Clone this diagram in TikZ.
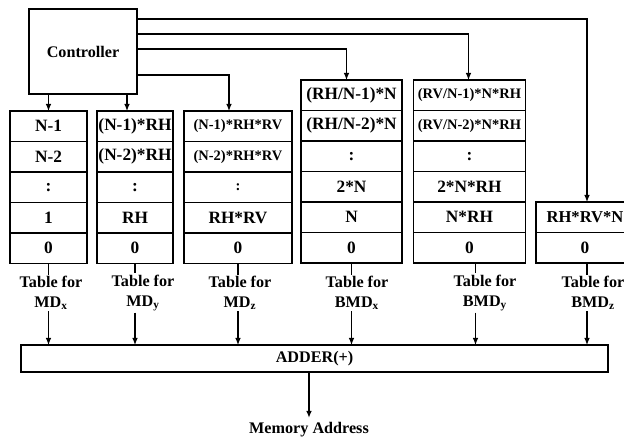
\documentclass[tikz,border=0pt]{standalone}
\usepackage{fontspec}
\setmainfont{Liberation Serif}
\usetikzlibrary{positioning,arrows.meta}
\tikzset{
  >={Latex[length=5pt,width=4pt]},
  every node/.style={outer sep=0pt, font=\bfseries\fontsize{11.5}{14.2}\selectfont},
  cell/.style={draw, line width=0.9pt, inner sep=0pt, minimum height=0.7625cm, font=\bfseries\fontsize{12.3}{14}\selectfont},
  smallcell/.style={cell, font=\bfseries\fontsize{10.3}{12}\selectfont},
  lbl/.style={align=center, inner sep=1pt},
  box/.style={draw, line width=0.9pt}
}
\begin{document}
\begin{tikzpicture}[x=0.025cm,y=-0.025cm,line width=0.8pt]
		  \useasboundingbox (0,0) rectangle (624,437);
		  % controller
		  \node[box, minimum width=2.7cm, minimum height=2.125cm] (ctrl) at (83,51.5) {Controller};
		  % table for MDx
		  \node[cell, minimum width=1.925cm] (mdx1) at (48.5,126.25) {N-1};
		  \node[cell, minimum width=1.925cm, below=0pt of mdx1] (mdx2) {N-2};
		  \node[cell, minimum width=1.925cm, below=0pt of mdx2] (mdx3) {:};
		  \node[cell, minimum width=1.925cm, below=0pt of mdx3] (mdx4) {1};
		  \node[cell, minimum width=1.925cm, below=0pt of mdx4] (mdx5) {0};
		  % table for MDy
		  \node[cell, minimum width=1.9cm] (mdy1) at (135,126.25) {(N-1)*RH};
		  \node[cell, minimum width=1.9cm, below=0pt of mdy1] (mdy2) {(N-2)*RH};
		  \node[cell, minimum width=1.9cm, below=0pt of mdy2] (mdy3) {:};
		  \node[cell, minimum width=1.9cm, below=0pt of mdy3] (mdy4) {RH};
		  \node[cell, minimum width=1.9cm, below=0pt of mdy4] (mdy5) {0};
		  % table for MDz
		  \node[smallcell, minimum width=2.7cm] (mdz1) at (238,126.25) {(N-1)*RH*RV};
		  \node[smallcell, minimum width=2.7cm, below=0pt of mdz1] (mdz2) {(N-2)*RH*RV};
		  \node[smallcell, minimum width=2.7cm, below=0pt of mdz2] (mdz3) {:};
		  \node[cell, minimum width=2.7cm, below=0pt of mdz3] (mdz4) {RH*RV};
		  \node[cell, minimum width=2.7cm, below=0pt of mdz4] (mdz5) {0};
		  % table for BMDx
		  \node[cell, minimum width=2.525cm] (bmdx1) at (351.5,95.25) {(RH/N-1)*N};
		  \node[cell, minimum width=2.525cm, below=0pt of bmdx1] (bmdx2) {(RH/N-2)*N};
		  \node[cell, minimum width=2.525cm, below=0pt of bmdx2] (bmdx3) {:};
		  \node[cell, minimum width=2.525cm, below=0pt of bmdx3] (bmdx4) {2*N};
		  \node[cell, minimum width=2.525cm, below=0pt of bmdx4] (bmdx5) {N};
		  \node[cell, minimum width=2.525cm, below=0pt of bmdx5] (bmdx6) {0};
		  % table for BMDy
		  \node[smallcell, minimum width=2.8cm] (bmdy1) at (469.5,95.25) {(RV/N-1)*N*RH};
		  \node[smallcell, minimum width=2.8cm, below=0pt of bmdy1] (bmdy2) {(RV/N-2)*N*RH};
		  \node[cell, minimum width=2.8cm, below=0pt of bmdy2] (bmdy3) {:};
		  \node[cell, minimum width=2.8cm, below=0pt of bmdy3] (bmdy4) {2*N*RH};
		  \node[cell, minimum width=2.8cm, below=0pt of bmdy4] (bmdy5) {N*RH};
		  \node[cell, minimum width=2.8cm, below=0pt of bmdy5] (bmdy6) {0};
		  % table for BMDz
		  \node[cell, minimum width=2.45cm, font=\bfseries\fontsize{11.8}{14}\selectfont] (bmdz1) at (585,217.25) {RH*RV*N};
		  \node[cell, minimum width=2.45cm, below=0pt of bmdz1] (bmdz2) {0};
		  % controller outputs
		  \draw[->] ([yshift=-0.25cm]ctrl.north east) -| ([xshift=0.05cm]bmdz1.north);
		  \draw[->] ([yshift=-0.625cm]ctrl.north east) -| ([xshift=-0.025cm]bmdy1.north);
		  \draw[->] ([yshift=-1cm]ctrl.north east) -| ([xshift=-0.125cm]bmdx1.north);
		  \draw[->] ([yshift=-1.65cm]ctrl.north east) -| ([xshift=-0.225cm]mdz1.north);
		  \draw[->] (ctrl.south -| mdx1.north) -- (mdx1.north);
		  \draw[->] ([xshift=-0.2cm]mdy1.north |- ctrl.south) -- ([xshift=-0.2cm]mdy1.north);
		  % labels
		  \node[lbl] (lmdx) at (51,293) {Table for\\MD\textsubscript{x}};
		  \node[lbl] (lmdy) at (143,293) {Table for\\MD\textsubscript{y}};
		  \node[lbl] (lmdz) at (240,293) {Table for\\MD\textsubscript{z}};
		  \node[lbl] (lbmdx) at (357,293) {Table for\\BMD\textsubscript{x}};
		  \node[lbl] (lbmdy) at (485,293) {Table for\\BMD\textsubscript{y}};
		  \node[lbl] (lbmdz) at (593,293) {Table for\\BMD\textsubscript{z}};
		  % adder
		  \node[box, minimum width=14.675cm, minimum height=0.675cm] (adder) at (314.5,358.5) {ADDER(+)};
		  \node (mem) at (309,430) {Memory Address};
		  % table to adder
		  \draw (mdx5.south) -- (mdx5.south |- lmdx.north);
		  \draw[->] (mdx5.south |- lmdx.south) -- (mdx5.south |- adder.north);
		  \draw (mdy5.south) -- (mdy5.south |- lmdy.north);
		  \draw[->] (mdy5.south |- lmdy.south) -- (mdy5.south |- adder.north);
		  \draw (mdz5.south) -- (mdz5.south |- lmdz.north);
		  \draw[->] (mdz5.south |- lmdz.south) -- (mdz5.south |- adder.north);
		  \draw (bmdx6.south) -- (bmdx6.south |- lbmdx.north);
		  \draw[->] (bmdx6.south |- lbmdx.south) -- (bmdx6.south |- adder.north);
		  \draw ([xshift=0.15cm]bmdy6.south) -- ([xshift=0.15cm]bmdy6.south |- lbmdy.north);
		  \draw[->] ([xshift=0.15cm]bmdy6.south |- lbmdy.south) -- ([xshift=0.15cm]bmdy6.south |- adder.north);
		  \draw ([xshift=0.05cm]bmdz2.south) -- ([xshift=0.05cm]bmdz2.south |- lbmdz.north);
		  \draw[->] ([xshift=0.05cm]bmdz2.south |- lbmdz.south) -- ([xshift=0.05cm]bmdz2.south |- adder.north);
		  \draw[->, line width=1.4pt] (mem.north |- adder.south) -- (mem.north);
\end{tikzpicture}
\end{document}
